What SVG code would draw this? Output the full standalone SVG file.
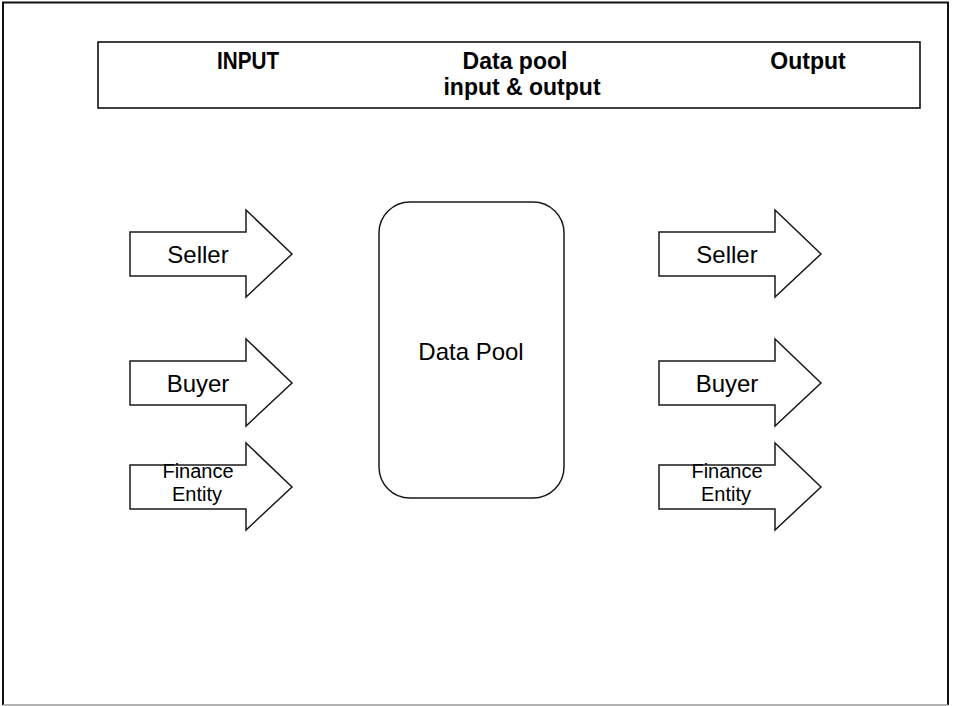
<svg xmlns="http://www.w3.org/2000/svg" width="955" height="706" viewBox="0 0 955 706">
  <style>
    .frame { fill: #ffffff; stroke: #000000; stroke-width: 1.5; }
    .shape { fill: #ffffff; stroke: #1a1a1a; stroke-width: 1.5; }
    .head { font-family: "Liberation Sans", Arial, sans-serif; font-size: 23px; font-weight: bold; fill: #000000; text-anchor: middle; }
    .lbl { font-family: "Liberation Sans", Arial, sans-serif; font-size: 24px; fill: #000000; text-anchor: middle; }
    .small { font-family: "Liberation Sans", Arial, sans-serif; font-size: 20px; fill: #000000; text-anchor: middle; }
  </style>
  <defs>
    <!-- block arrow: body 0..116 wide, head to 162; origin at body's top-left -->
    <path id="blockArrow" d="M0,0 H116 V-22 L162,22 L116,65 V44 H0 Z"/>
  </defs>

  <rect x="0" y="0" width="955" height="706" fill="#ffffff"/>
  <!-- page frame -->
  <path d="M3,705 V2.5 H948 V705" fill="none" stroke="#111111" stroke-width="2"/>
  <line x1="3" y1="705" x2="948" y2="705" stroke="#999999" stroke-width="1.5"/>

  <!-- header band -->
  <g id="header">
    <rect class="frame" x="98" y="42" width="822" height="66"/>
    <text class="head" x="248" y="69" textLength="62" lengthAdjust="spacingAndGlyphs">INPUT</text>
    <text class="head" x="515" y="69">Data pool</text>
    <text class="head" x="522" y="95">input &amp; output</text>
    <text class="head" x="808" y="69">Output</text>
  </g>

  <!-- central store -->
  <g id="data-pool">
    <rect class="shape" x="379" y="202" width="185" height="296" rx="31" ry="31"/>
    <text class="lbl" x="471" y="360">Data Pool</text>
  </g>

  <!-- input arrows -->
  <g id="in-seller">
    <use href="#blockArrow" class="shape" x="130" y="232"/>
    <text class="lbl" x="198" y="263">Seller</text>
  </g>
  <g id="in-buyer">
    <use href="#blockArrow" class="shape" x="130" y="361"/>
    <text class="lbl" x="198" y="392">Buyer</text>
  </g>
  <g id="in-finance">
    <use href="#blockArrow" class="shape" x="130" y="465"/>
    <text class="small" x="198" y="478">Finance</text>
    <text class="small" x="197" y="501">Entity</text>
  </g>

  <!-- output arrows -->
  <g id="out-seller">
    <use href="#blockArrow" class="shape" x="659" y="232"/>
    <text class="lbl" x="727" y="263">Seller</text>
  </g>
  <g id="out-buyer">
    <use href="#blockArrow" class="shape" x="659" y="361"/>
    <text class="lbl" x="727" y="392">Buyer</text>
  </g>
  <g id="out-finance">
    <use href="#blockArrow" class="shape" x="659" y="465"/>
    <text class="small" x="727" y="478">Finance</text>
    <text class="small" x="726" y="501">Entity</text>
  </g>

  <g id="connectors"/>
</svg>
